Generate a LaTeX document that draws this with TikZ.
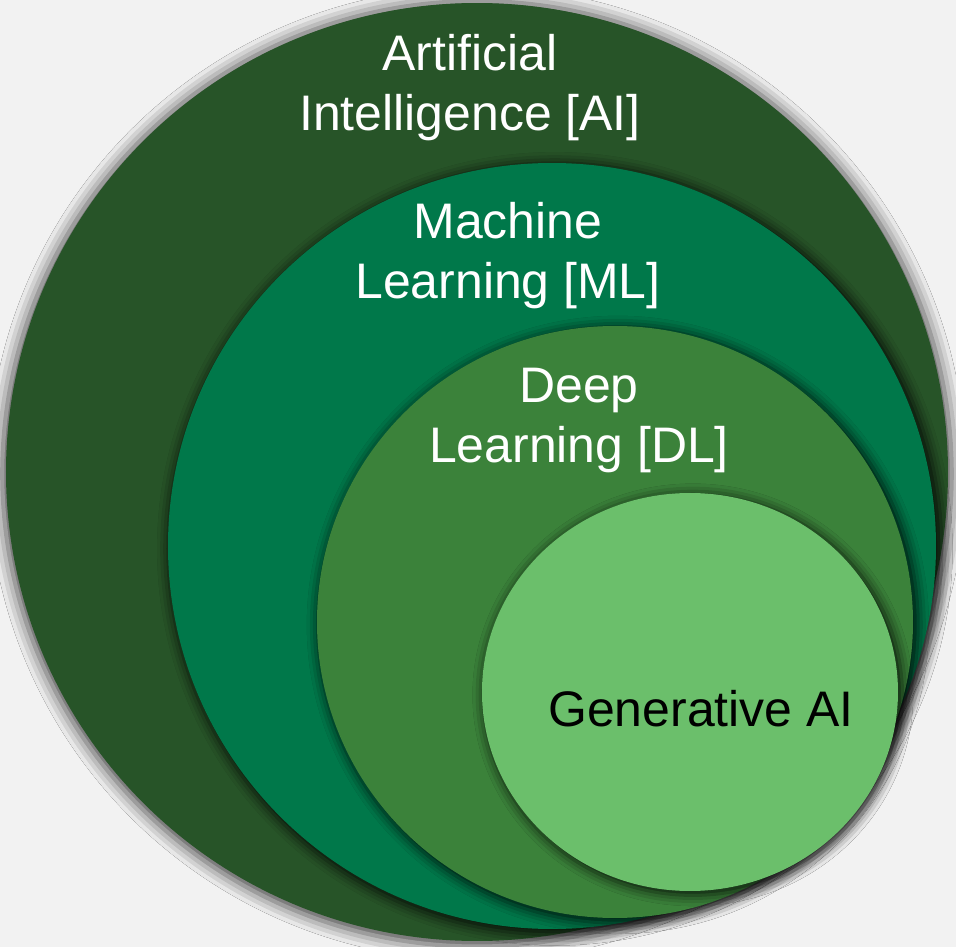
\documentclass[tikz,border=0pt]{standalone}
\usepackage{fontspec}
\setmainfont{Liberation Sans}
\usetikzlibrary{shadows.blur}

\definecolor{paper}{HTML}{F2F2F2}
\definecolor{aigreen}{HTML}{275428}
\definecolor{mlgreen}{HTML}{00784A}
\definecolor{dlgreen}{HTML}{3B823A}
\definecolor{gengreen}{HTML}{6BBF6B}

\begin{document}
\begin{tikzpicture}[x=0.01cm,y=0.01cm,
	layer/.style={blur shadow={shadow xshift=0.8pt,shadow yshift=-0.8pt,shadow scale=1.008,shadow blur radius=3pt,shadow opacity=80}},
	every node/.style={font=\fontsize{14.2}{17}\selectfont,align=center,anchor=base,inner sep=0pt}]
\fill[paper] (0,0) rectangle (956,947);
\useasboundingbox (0,0) rectangle (956,947);

%outer glow
\fill[aigreen,blur shadow={shadow xshift=0pt,shadow yshift=-0.5pt,shadow scale=1.008,shadow blur radius=4pt,shadow opacity=70}] (477,475) ellipse (471 and 469);

%layers
\foreach \cx/\cy/\rx/\ry/\col in {552/401/384/383/mlgreen,615/325/298/296/dlgreen,690/255/208/199/gengreen}
	\fill[layer,\col] (\cx,\cy) ellipse ({\rx} and {\ry});

%labels (base = last line)
\node[text=white] (ai) at (470,817) {Artificial\\Intelligence [AI]};
\node[text=white] (ml) at (508,649) {Machine\\Learning [ML]};
\node[text=white] (dl) at (579,485) {Deep\\Learning [DL]};
\node[text=black] (gen) at (701,221) {Generative AI};
\end{tikzpicture}
\end{document}
